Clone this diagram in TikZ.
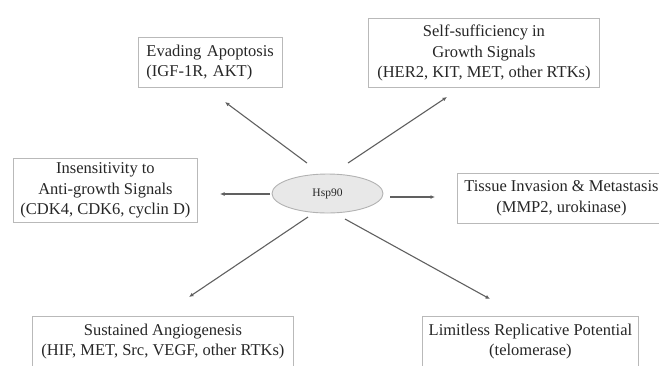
\documentclass[tikz,border=0pt]{standalone}
\usepackage{fontspec}
\setmainfont{Liberation Serif}
\usetikzlibrary{arrows.meta,shapes.geometric}
\begin{document}
\begin{tikzpicture}[x=1pt,y=-1pt,
  box/.style={draw=gray!55, line width=0.9pt, align=center,
    font=\fontsize{16.5}{20.5}\selectfont, text=black!85,
    inner sep=0pt, anchor=north west},
  arr/.style={draw=gray!75!black, line width=1.1pt,
    -{Latex[length=4.5pt,width=4pt]}}]
\useasboundingbox (0,0) rectangle (659,365);
\clip (0,0) rectangle (659,365);

% centre
\node[ellipse, draw=gray!60, fill=gray!18, line width=0.9pt,
  minimum width=111pt, minimum height=39pt, inner sep=0pt,
  font=\fontsize{11.5}{13}\selectfont, text=black!85] (hsp) at (327.5,193.5) {Hsp90};

% boxes
\node[box, minimum width=144pt, minimum height=50pt, text width=128pt, align=left]
  (evade) at (138,37) {Evading Apoptosis\\(IGF-1R, AKT)};
\node[box, minimum width=231pt, minimum height=69pt]
  (self) at (368,18) {Self-sufficiency in\\Growth Signals\\(HER2, KIT, MET, other RTKs)};
\node[box, minimum width=184pt, minimum height=64pt]
  (insens) at (13,158) {Insensitivity to\\Anti-growth Signals\\(CDK4, CDK6, cyclin D)};
\node[box, minimum width=208pt, minimum height=50pt]
  (tissue) at (457,173) {Tissue Invasion \& Metastasis\\(MMP2, urokinase)};
\node[box, minimum width=261pt, minimum height=50pt]
  (angio) at (32,316) {Sustained Angiogenesis\\(HIF, MET, Src, VEGF, other RTKs)};
\node[box, minimum width=216pt, minimum height=50pt]
  (limit) at (422,316) {Limitless Replicative Potential\\(telomerase)};

% connector end points
\coordinate (s1) at (307,163); \coordinate (e1) at (225,102);
\coordinate (s2) at (348,163); \coordinate (e2) at (447,97);
\coordinate (s3) at (270,194); \coordinate (e3) at (220,194);
\coordinate (s4) at (390,197); \coordinate (e4) at (435,197);
\coordinate (s5) at (308,217); \coordinate (e5) at (189,297);
\coordinate (s6) at (345,219); \coordinate (e6) at (490,299);

\draw[arr] (s1) -- (e1);
\draw[arr] (s2) -- (e2);
\draw[arr] (s3) -- (e3);
\draw[arr] (s4) -- (e4);
\draw[arr] (s5) -- (e5);
\draw[arr] (s6) -- (e6);
\end{tikzpicture}
\end{document}
